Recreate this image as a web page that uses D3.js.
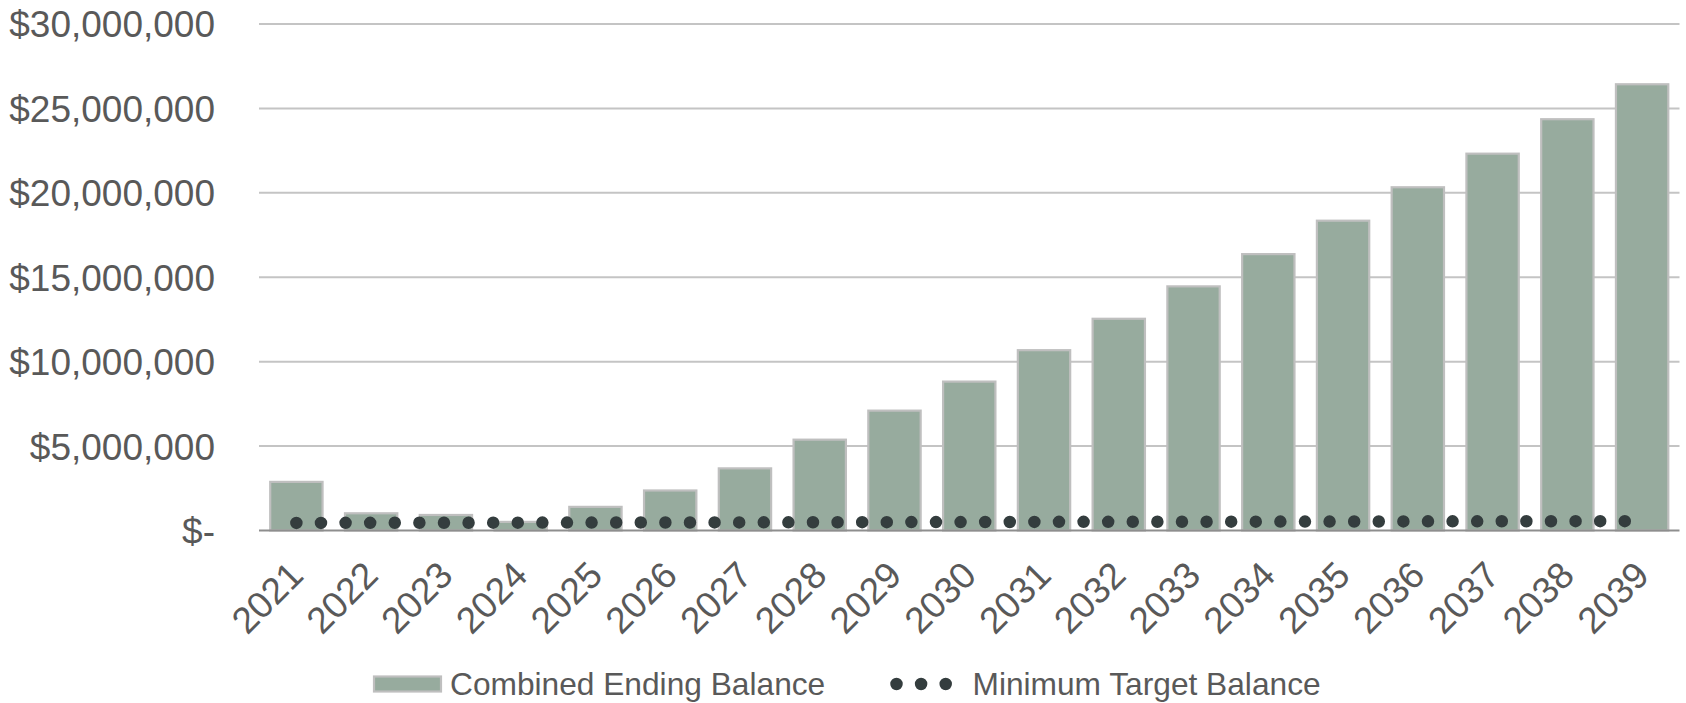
<!DOCTYPE html>
<html>
<head>
<meta charset="utf-8">
<script src="https://cdn.jsdelivr.net/npm/d3@7"></script>
<style>
  html, body { margin: 0; padding: 0; background: #ffffff; }
  svg { display: block; font-family: "Liberation Sans", Arial, sans-serif; }
</style>
</head>
<body>
<svg id="chart" width="1686" height="703"></svg>
<script>
// Fund balance projection by year
const years = ["2021","2022","2023","2024","2025","2026","2027","2028","2029","2030",
               "2031","2032","2033","2034","2035","2036","2037","2038","2039"];
const combinedEndingBalance = [2880000, 1020000, 920000, 510000, 1400000, 2370000, 3680000,
  5380000, 7100000, 8820000, 10680000, 12540000, 14460000, 16370000, 18350000,
  20330000, 22320000, 24360000, 26430000];
const minimumTargetBalance = [450000, 455000, 460000, 465000, 470000, 475000, 480000,
  490000, 495000, 500000, 510000, 515000, 520000, 525000, 530000,
  540000, 545000, 550000, 555000];
const yTicks = [0, 5000000, 10000000, 15000000, 20000000, 25000000, 30000000];
const legendLabels = ["Combined Ending Balance", "Minimum Target Balance"];

const barFill = "#97ab9e";
const barStroke = "#bfbfbf";
const dotColor = "#343d3e";
const textColor = "#595959";

const svg = d3.select("#chart");
const plot = { left: 259, right: 1679.5, top: 24, bottom: 530.5 };

const x = d3.scaleBand()
  .domain(years)
  .range([plot.left, plot.right])
  .paddingInner(0.3)
  .paddingOuter(0.15);

const y = d3.scaleLinear()
  .domain([0, 30000000])
  .range([plot.bottom, plot.top]);

// horizontal gridlines
svg.append("g")
  .selectAll("line")
  .data(yTicks.filter(d => d > 0))
  .join("line")
  .attr("x1", plot.left).attr("x2", plot.right)
  .attr("y1", d => y(d)).attr("y2", d => y(d))
  .attr("stroke", "#c4c4c4")
  .attr("stroke-width", 2);

// y axis labels
const fmt = d3.format(",");
const yAxis = svg.append("g")
  .attr("transform", `translate(${plot.left},0)`)
  .call(d3.axisLeft(y)
    .tickValues(yTicks)
    .tickSize(0)
    .tickPadding(44)
    .tickFormat(d => d === 0 ? "$-" : "$" + fmt(d)));
yAxis.select(".domain").remove();
yAxis.selectAll("text")
  .attr("fill", textColor)
  .style("font-size", "37px")
  .attr("dy", "0.35em");

// bars
svg.append("g")
  .selectAll("rect")
  .data(years.map((yr, i) => ({ yr, v: combinedEndingBalance[i] })))
  .join("rect")
  .attr("x", d => x(d.yr))
  .attr("width", x.bandwidth())
  .attr("y", d => y(d.v))
  .attr("height", d => y(0) - y(d.v))
  .attr("fill", barFill)
  .attr("stroke", barStroke)
  .attr("stroke-width", 2.2);

// baseline
svg.append("line")
  .attr("x1", plot.left).attr("x2", plot.right)
  .attr("y1", y(0)).attr("y2", y(0))
  .attr("stroke", "#8e8e8e")
  .attr("stroke-width", 2);

// minimum target balance, round-dot line
const line = d3.line()
  .x((d, i) => x(years[i]) + x.bandwidth() / 2)
  .y(d => y(d));
svg.append("path")
  .datum(minimumTargetBalance)
  .attr("d", line)
  .attr("fill", "none")
  .attr("stroke", dotColor)
  .attr("stroke-width", 12.5)
  .attr("stroke-linecap", "round")
  .attr("stroke-dasharray", "0 24.6");

// x axis labels
const xAxis = svg.append("g")
  .attr("transform", `translate(0,${plot.bottom})`)
  .call(d3.axisBottom(x).tickSize(0).tickFormat(d => d));
xAxis.select(".domain").remove();
xAxis.selectAll("text")
  .attr("fill", textColor)
  .style("font-size", "37px")
  .attr("text-anchor", "end")
  .attr("dy", null)
  .attr("y", 0)
  .attr("transform", "translate(9,47) rotate(-45)");

// legend
const legend = svg.append("g");
legend.append("rect")
  .attr("x", 374).attr("y", 676.5)
  .attr("width", 67).attr("height", 15)
  .attr("fill", barFill)
  .attr("stroke", barStroke)
  .attr("stroke-width", 2.2);
legend.append("text")
  .attr("x", 450).attr("y", 684)
  .attr("dy", "0.35em")
  .attr("fill", textColor)
  .style("font-size", "31.7px")
  .text(legendLabels[0]);
legend.append("path")
  .attr("d", "M896.5,684H946")
  .attr("stroke", dotColor)
  .attr("stroke-width", 12.5)
  .attr("stroke-linecap", "round")
  .attr("stroke-dasharray", "0 24.6");
legend.append("text")
  .attr("x", 972.5).attr("y", 684)
  .attr("dy", "0.35em")
  .attr("fill", textColor)
  .style("font-size", "31.7px")
  .text(legendLabels[1]);
</script>
</body>
</html>
